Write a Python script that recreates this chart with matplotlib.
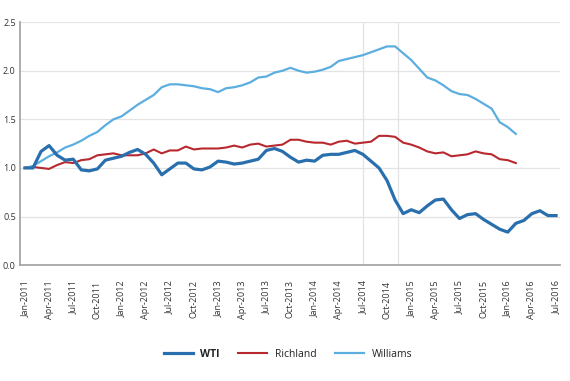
import matplotlib.pyplot as plt
import numpy as np

plt.rcParams['font.family'] = ['Open Sans', 'DejaVu Sans']

# monthly index values, Jan-2011 = 1.0
wti = [1.00, 1.00, 1.17, 1.23, 1.13, 1.08, 1.09, 0.98, 0.97, 0.99, 1.08, 1.10,
       1.12, 1.16, 1.19, 1.14, 1.05, 0.93, 0.99, 1.05, 1.05, 0.99, 0.98, 1.01,
       1.07, 1.06, 1.04, 1.05, 1.07, 1.09, 1.18, 1.20, 1.17, 1.11, 1.06, 1.08,
       1.07, 1.13, 1.14, 1.14, 1.16, 1.18, 1.14, 1.07, 1.00, 0.87, 0.67, 0.53,
       0.57, 0.54, 0.61, 0.67, 0.68, 0.57, 0.48, 0.52, 0.53, 0.47, 0.42, 0.37,
       0.34, 0.43, 0.46, 0.53, 0.56, 0.51, 0.51]
richland = [1.00, 1.01, 1.00, 0.99, 1.03, 1.06, 1.05, 1.08, 1.09, 1.13, 1.14, 1.15,
            1.13, 1.13, 1.13, 1.15, 1.19, 1.15, 1.18, 1.18, 1.22, 1.19, 1.20, 1.20,
            1.20, 1.21, 1.23, 1.21, 1.24, 1.25, 1.22, 1.23, 1.24, 1.29, 1.29, 1.27,
            1.26, 1.26, 1.24, 1.27, 1.28, 1.25, 1.26, 1.27, 1.33, 1.33, 1.32, 1.26,
            1.24, 1.21, 1.17, 1.15, 1.16, 1.12, 1.13, 1.14, 1.17, 1.15, 1.14, 1.09,
            1.08, 1.05]
williams = [1.00, 1.02, 1.07, 1.12, 1.16, 1.21, 1.24, 1.28, 1.33, 1.37, 1.44, 1.50,
            1.53, 1.59, 1.65, 1.70, 1.75, 1.83, 1.86, 1.86, 1.85, 1.84, 1.82, 1.81,
            1.78, 1.82, 1.83, 1.85, 1.88, 1.93, 1.94, 1.98, 2.00, 2.03, 2.00, 1.98,
            1.99, 2.01, 2.04, 2.10, 2.12, 2.14, 2.16, 2.19, 2.22, 2.25, 2.25, 2.18,
            2.11, 2.02, 1.93, 1.90, 1.85, 1.79, 1.76, 1.75, 1.71, 1.66, 1.61, 1.47,
            1.42, 1.35]

months = ['Jan', 'Apr', 'Jul', 'Oct']
tick_labels = [f'{months[i % 4]}-{2011 + i // 4}' for i in range(23)]
event_months = [42, 46.3]  # Jul-2014, late Nov-2014

fig = plt.figure(figsize=(5.7, 3.81), dpi=100)
ax = fig.add_axes([0.035, 0.304, 0.947, 0.638])

for m in event_months:
    ax.axvline(m, color='#e3e3e3', lw=0.9, zorder=0)

ax.plot(np.arange(len(richland)), richland, color='#B8282F', lw=1.5, label='Richland', zorder=3)
ax.plot(np.arange(len(williams)), williams, color='#5BAEDF', lw=1.6, label='Williams', zorder=3)
ax.plot(np.arange(len(wti)), wti, color='#2A6FAD', lw=2.3, label='WTI', zorder=4)

ax.set_ylim(0, 2.5)
ax.set_yticks(np.arange(0, 2.51, 0.5))
ax.set_yticklabels([f'{v:.1f}' for v in np.arange(0, 2.51, 0.5)])
ax.set_xlim(-0.62, 66.46)
ax.set_xticks(np.arange(0, 67, 3))
ax.set_xticklabels(tick_labels, rotation=90)
ax.grid(axis='y', color='#e3e3e3', lw=0.9)
ax.set_axisbelow(True)
ax.tick_params(length=0, labelsize=6.5, labelcolor='#333333')
ax.tick_params(axis='y', pad=3)
ax.tick_params(axis='x', pad=11)
for s in ['top', 'right']:
    ax.spines[s].set_visible(False)
for s in ['left', 'bottom']:
    ax.spines[s].set_color('#a0a0a0')
    ax.spines[s].set_linewidth(1.2)

h, l = ax.get_legend_handles_labels()
order = [2, 0, 1]
leg = fig.legend([h[i] for i in order], [l[i] for i in order], loc='center',
                 bbox_to_anchor=(0.505, 0.07), ncol=3, frameon=False, fontsize=7.5,
                 handlelength=2.8, columnspacing=1.8, handletextpad=0.7)
for t in leg.get_texts():
    t.set_color('#222222')
leg.get_texts()[0].set_fontweight('bold')

fig.savefig('out.png', dpi=100)
